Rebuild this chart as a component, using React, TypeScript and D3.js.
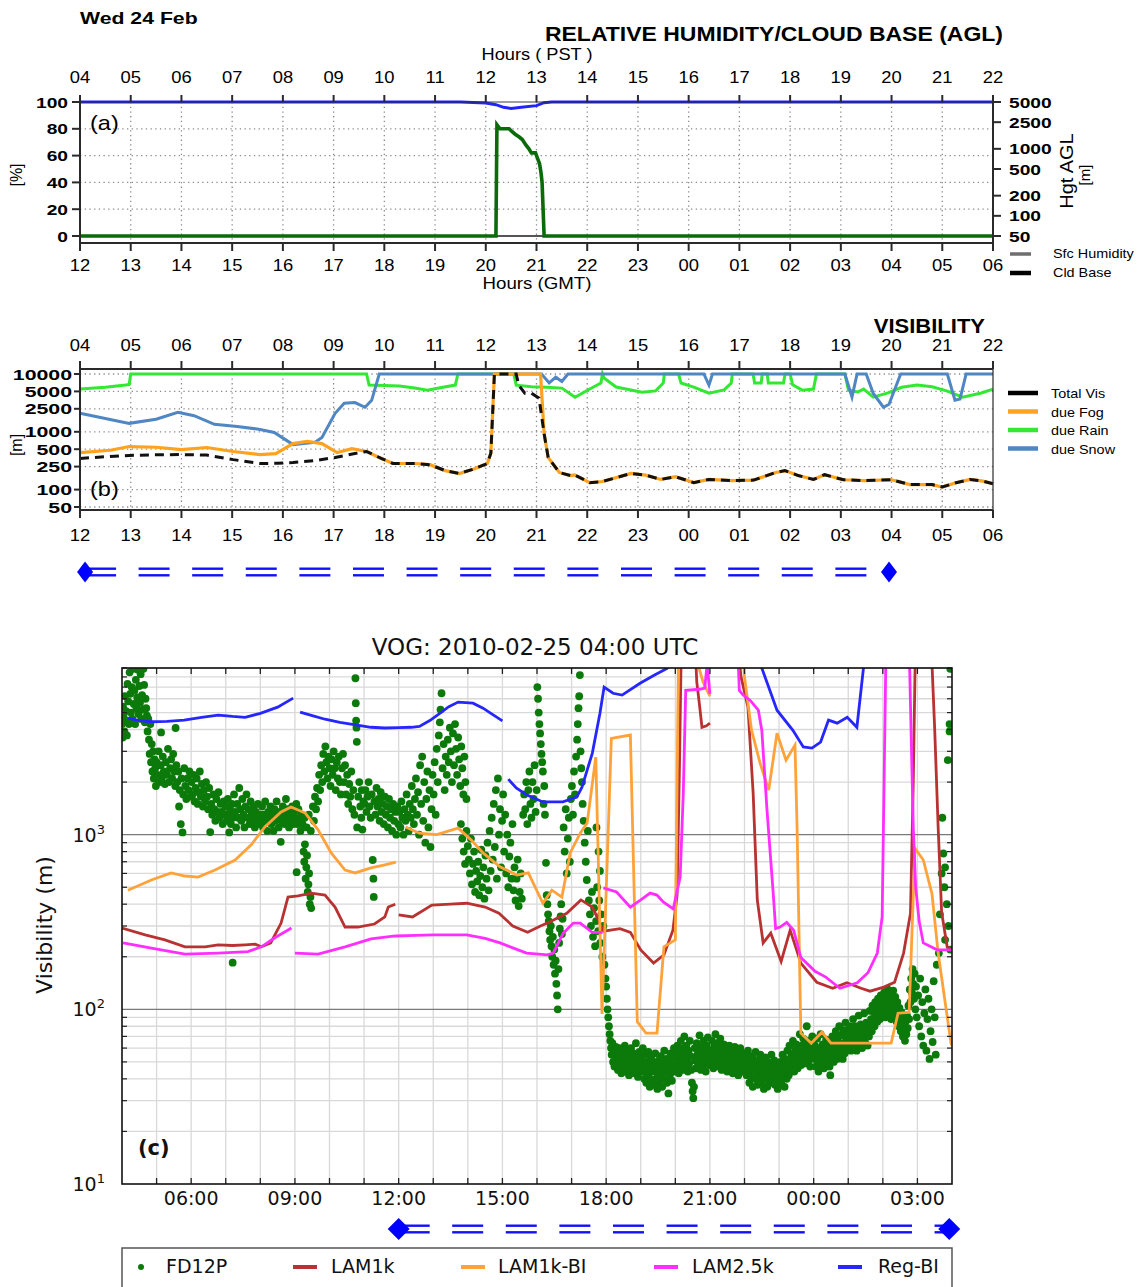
import React from "react";
import * as d3 from "d3";

type P = [number, number];

// ---------------- Panels (a) and (b): axes ----------------
const GMT_LABELS = ["12","13","14","15","16","17","18","19","20","21","22","23","00","01","02","03","04","05","06"];
const PST_LABELS = ["04","05","06","07","08","09","10","11","12","13","14","15","16","17","18","19","20","21","22"];
const RH_TICKS = [0, 20, 40, 60, 80, 100];
const CB_TICKS = [50, 100, 200, 500, 1000, 2500, 5000];
const VIS_TICKS = [50, 100, 250, 500, 1000, 2500, 5000, 10000];

// Panel (a): relative humidity [%] and cloud base [m], hour = GMT hour (24+ = next day)
const sfcHumidity: P[] = [[12,100],[19.5,100],[20.0,99.2],[20.2,98],[20.35,96],[20.5,95.2],[20.7,96],[21.0,97.3],[21.15,99.5],[21.3,100],[30,100]];
const cloudBase: P[] = [[12,50],[20.2,50],[20.22,2285],[20.28,1990],[20.46,1990],[20.52,1800],[20.58,1652],[20.66,1500],[20.72,1377],[20.79,1145],[20.85,1000],[20.9,869],[20.98,869],[21.02,722],[21.06,600],[21.09,436],[21.11,315],[21.15,50],[30,50]];

// Panel (b): visibility [m]
const visRain: P[] = [[12,5480],[12.5,5900],[12.9,6430],[12.97,6600],[13.0,10000],[17.65,10000],[17.7,6430],[18.0,6300],[18.3,6200],[18.6,5700],[18.85,5260],[19.1,5800],[19.4,6430],[19.45,10000],[20.55,10000],[20.6,6400],[20.9,6000],[21.2,5900],[21.5,5700],[21.76,3970],[22.05,5500],[22.27,7000],[22.3,10000],[22.33,8500],[22.57,5940],[23.08,4850],[23.35,5100],[23.5,7000],[23.52,10000],[23.8,10000],[23.85,7000],[24.1,5940],[24.4,4660],[24.7,5300],[24.84,7000],[24.86,10000],[25.27,10000],[25.3,7000],[25.43,7000],[25.45,10000],[25.55,10000],[25.57,7000],[25.87,7000],[25.9,10000],[26.0,10000],[26.05,6500],[26.24,5260],[26.46,5500],[26.52,10000],[27.08,10000],[27.15,5260],[27.34,4900],[27.45,5500],[27.64,3970],[27.93,4700],[28.2,5900],[28.5,6430],[28.8,6000],[29.1,5050],[29.4,3970],[29.77,4700],[30,5480]];
const visSnow: P[] = [[12,2090],[12.5,1700],[12.97,1400],[13.5,1650],[13.93,2180],[14.25,1900],[14.65,1350],[15.1,1240],[15.55,1100],[15.83,975],[16.2,600],[16.63,655],[16.77,800],[17.03,2090],[17.21,3120],[17.42,3200],[17.62,2660],[17.75,3500],[17.9,10000],[21.1,10000],[21.25,7000],[21.38,8800],[21.5,7400],[21.62,10000],[24.3,10000],[24.4,6430],[24.47,10000],[27.08,10000],[27.22,3970],[27.32,10000],[27.5,10000],[27.64,4600],[27.84,2660],[27.95,3000],[28.18,10000],[29.1,10000],[29.25,3520],[29.35,3700],[29.47,10000],[30,10000]];
const visFog: P[] = [[12,436],[12.6,480],[12.97,556],[13.5,540],[14.0,490],[14.5,535],[15.02,456],[15.55,404],[15.86,420],[16.2,625],[16.48,680],[16.77,625],[17.07,436],[17.36,510],[17.65,456],[17.94,346],[18.17,283],[18.6,283],[18.9,270],[19.2,213],[19.48,190],[19.78,230],[20.03,283],[20.1,425],[20.17,10000],[21.08,10000],[21.15,930],[21.23,360],[21.45,198],[21.67,175],[21.75,180],[22.05,132],[22.3,138],[22.86,190],[23.15,178],[23.45,150],[23.74,167],[24.1,132],[24.4,150],[24.84,143],[25.28,146],[25.72,198],[25.9,213],[26.16,175],[26.46,150],[26.68,181],[27.05,148],[27.47,143],[28.0,148],[28.36,122],[28.8,122],[29.0,111],[29.25,130],[29.55,150],[29.8,140],[30,126]];
const visTotal: P[] = [[12,346],[12.5,370],[12.97,390],[13.5,400],[14.0,404],[14.5,395],[15.02,330],[15.55,283],[15.9,285],[16.2,295],[16.63,316],[17.03,360],[17.42,420],[17.65,456],[17.94,346],[18.17,283],[18.6,283],[18.9,270],[19.2,213],[19.48,190],[19.78,230],[20.03,283],[20.1,425],[20.17,10000],[20.6,10000],[20.65,6400],[20.77,4660],[20.9,4660],[21.05,3820],[21.15,930],[21.23,360],[21.45,198],[21.67,175],[21.75,180],[22.05,132],[22.3,138],[22.86,190],[23.15,178],[23.45,150],[23.74,167],[24.1,132],[24.4,150],[24.84,143],[25.28,146],[25.72,198],[25.9,213],[26.16,175],[26.46,150],[26.68,181],[27.05,148],[27.47,143],[28.0,148],[28.36,122],[28.8,122],[29.0,111],[29.25,130],[29.55,150],[29.8,140],[30,126]];

const A_LEGEND = [{ label: "Sfc Humidity", color: "#6e6e6e" }, { label: "Cld Base", color: "#000000" }];
const B_LEGEND = [
  { label: "Total Vis", color: "#000000" },
  { label: "due Fog", color: "#ffa21f" },
  { label: "due Rain", color: "#33e833" },
  { label: "due Snow", color: "#4f86c4" },
];
const ARROW_B_HOURS = [12.1, 27.95];

// ---------------- Panel (c) ----------------
const C_HOUR_TICKS = [6, 9, 12, 15, 18, 21, 24, 27];
const C_HOUR_LABELS = ["06:00", "09:00", "12:00", "15:00", "18:00", "21:00", "00:00", "03:00"];
const C_DECADES = [10, 100, 1000];
const C_DECADE_EXP = ["1", "2", "3"];
const C_MINOR_MULT = [2, 3, 4, 5, 6, 7, 8, 9];
const ARROW_C_HOURS = [12.0, 27.92];

// hour (4 = 04:00 on 24 Feb, 28 = 04:00 on 25 Feb), visibility [m]
const lam1k: P[][] = [
  [[4.0,292],[4.67,267],[5.24,250],[5.82,228],[6.4,228],[6.78,234],[7.2,232],[7.56,234],[7.85,236],[8.03,228],[8.3,240],[8.6,312],[8.8,439],[9.09,446],[9.47,463],[9.87,451],[10.16,385],[10.45,296],[10.82,296],[11.3,308],[11.6,338],[11.7,385],[11.9,400]],
  [[12.0,347],[12.4,338],[12.96,395],[13.5,400],[13.97,405],[14.5,385],[14.9,355],[15.3,300],[15.73,276],[16.1,300],[16.35,315],[16.86,355],[17.27,423],[17.6,385],[17.93,280],[18.4,290],[18.7,276],[19.0,219],[19.37,184],[19.67,205],[19.93,284],[20.05,450],[20.12,2500],[20.18,15000],[20.55,15000],[20.62,7500],[20.7,5500],[20.77,4120],[20.9,4200],[21.0,4350]],
  [[21.0,15000],[21.8,12000],[21.9,8000],[22.1,5370],[22.25,1730],[22.37,423],[22.54,240],[22.76,273],[23.06,188],[23.32,284],[23.63,184],[24.09,143],[24.55,132],[24.96,142],[25.37,132],[25.63,127],[26.03,134],[26.34,143],[26.6,210],[26.8,355],[26.88,2000],[26.95,15000],[27.0,15000]],
  [[27.0,15000],[27.4,12000],[27.5,4000],[27.6,1100],[27.7,360],[27.86,228],[28.0,219]],
];
const lam1kBI: P[][] = [
  [[4.17,481],[4.85,550],[5.42,604],[5.82,580],[6.2,572],[6.69,627],[7.27,716],[7.73,872],[8.13,1107],[8.6,1350],[8.89,1440],[9.3,1330],[9.67,1065],[10.05,786],[10.45,627],[10.74,604],[11.2,645],[11.6,671],[11.92,697]],
  [[12.2,1107],[12.6,1020],[13.1,1000],[13.72,1090],[14.1,931],[14.44,786],[14.93,654],[15.42,588],[15.75,604],[16.17,405],[16.43,481],[16.72,439],[16.96,786],[17.25,1020],[17.45,1165],[17.7,2780],[17.88,94],[18.15,3560],[18.7,3720],[18.9,85],[19.15,73],[19.47,73],[19.67,228],[20.0,250],[20.1,15000],[20.55,15000],[20.65,9500],[20.8,7500],[21.0,6200]],
  [[21.0,15000],[21.9,15000],[22.0,8000],[22.2,4000],[22.45,2570],[22.7,1800],[22.94,3810],[23.2,2670],[23.46,3260],[23.52,1107],[23.63,73],[23.93,64],[24.24,74],[24.5,64],[26.24,64],[26.44,95],[26.76,96],[26.93,837],[27.17,716],[27.42,460],[27.6,210],[27.97,64],[28.0,62]],
];
const lam25k: P[][] = [
  [[4.03,240],[4.85,224],[5.82,207],[6.78,210],[7.64,214],[8.03,228],[8.42,257],[8.9,292]],
  [[9.0,210],[9.67,207],[10.45,228],[11.2,253],[11.9,263],[12.5,265],[13.0,267],[13.97,267],[14.5,255],[14.93,240],[15.3,225],[15.7,210],[16.3,205],[16.47,210],[16.76,273],[17.05,312],[17.25,312],[17.6,276],[17.9,276]],
  [[17.92,496],[18.3,470],[18.7,385],[19.0,423],[19.27,463],[19.47,451],[19.65,412],[19.94,376],[20.14,572],[20.23,1730],[20.3,6700],[20.7,6800],[20.85,6900],[20.92,9500],[21.0,6400]],
  [[21.0,15000],[21.78,15000],[21.85,6700],[21.96,6300],[22.16,5890],[22.4,5160],[22.5,3960],[22.65,1390],[22.83,463],[22.9,290],[23.03,296],[23.22,315],[23.42,284],[23.63,198],[24.04,165],[24.35,153],[24.76,132],[25.26,142],[25.57,162],[25.84,210],[25.98,338],[26.1,15000],[26.75,15000],[26.88,1100],[26.95,500],[27.05,320],[27.17,240],[27.57,219],[28.0,219]],
];
const regBI: P[][] = [
  [[4.17,4650],[4.5,4500],[4.85,4430],[5.3,4450],[5.8,4530],[6.3,4700],[6.78,4840],[7.2,4750],[7.56,4700],[8.0,4950],[8.5,5370],[8.95,6050]],
  [[9.15,5030],[9.5,4800],[9.87,4580],[10.3,4400],[10.8,4240],[11.2,4120],[11.6,4080],[12.0,4100],[12.36,4120],[12.6,4170],[12.9,4500],[13.2,4960],[13.45,5400],[13.72,5740],[14.15,5660],[14.44,5300],[14.7,4900],[15.0,4480]],
  [[15.17,2080],[15.4,1850],[15.7,1690],[16.17,1540],[16.75,1540],[17.15,1640],[17.3,1870],[17.6,2930],[17.82,4960],[17.94,7000],[18.2,6450],[18.46,6300],[18.98,7360],[19.4,8200],[19.76,8950],[20.0,10500],[21.0,14000],[22.0,12000],[22.5,9000],[22.94,5160],[23.4,3960],[23.7,3180],[23.95,3130],[24.2,3390],[24.43,4530],[24.68,4350],[24.97,4700],[25.25,4120],[25.44,9000],[25.6,14000],[28,15000]],
];

const fd12p: P[] = [
  [4.00,4300],[4.02,3600],[4.03,5400],[4.05,4700],[4.07,3900],[4.08,6200],[4.10,4500],[4.12,5100],[4.14,3700],[4.16,7300],[4.18,5800],[4.20,4300],[4.22,8500],[4.24,6400],[4.26,5000],[4.28,7000],[4.30,4600],[4.32,8900],[4.34,5600],[4.36,6700],[4.38,4300],[4.40,7700],[4.42,5300],[4.44,6100],[4.46,8800],[4.48,4900],[4.50,7100],[4.52,5700],[4.54,8300],[4.56,4600],[4.58,6300],[4.60,5200],[4.62,8900],[4.64,7200],[4.66,4400],[4.68,6000],[4.70,5300],[4.72,4800],[4.74,3900],[4.76,4600],[4.78,3500],[4.80,2900],[4.82,4300],[4.84,2600],[4.86,3300],[4.88,2300],[4.90,3000],[4.92,2100],[4.94,2700],[4.96,2400],[4.98,1900],
  [5.00,2600],[5.03,2200],[5.06,3000],[5.09,2000],[5.12,2500],[5.13,3850],[5.15,2100],[5.18,2800],[5.21,2300],[5.24,1950],[5.27,2600],[5.30,2200],[5.33,3100],[5.36,2000],[5.39,2400],[5.42,2700],[5.45,2100],[5.48,2900],[5.51,2300],[5.54,1900],[5.55,4080],[5.57,2500],[5.60,2000],[5.63,2300],[5.65,1450],[5.67,1800],[5.70,1150],[5.72,2100],[5.75,1030],[5.77,1700],[5.80,2400],[5.83,1900],[5.86,1600],[5.89,2100],[5.92,1800],[5.95,2300],[5.98,1650],
  [6.01,2000],[6.04,1700],[6.07,2200],[6.10,1550],[6.13,1850],[6.16,2100],[6.19,1500],[6.22,1750],[6.25,2300],[6.28,1650],[6.31,1950],[6.34,1450],[6.37,1800],[6.40,1550],[6.43,2000],[6.46,1650],[6.49,1400],[6.52,1850],[6.55,1035],[6.58,1500],[6.61,1300],[6.64,1700],[6.67,1400],[6.70,1200],[6.73,1600],[6.76,1350],[6.79,1750],[6.82,1250],[6.85,1500],[6.88,1350],[6.91,1150],[6.94,1550],[6.97,1300],
  [7.00,1450],[7.03,1200],[7.06,1600],[7.09,1300],[7.10,1030],[7.12,1400],[7.15,1150],[7.18,1500],[7.20,185],[7.21,1250],[7.24,1700],[7.27,1350],[7.30,1100],[7.33,1500],[7.36,1250],[7.39,1850],[7.42,1400],[7.45,1200],[7.48,1600],[7.51,1300],[7.54,1100],[7.57,1450],[7.60,1700],[7.63,1250],[7.66,1400],[7.69,1150],[7.72,1550],[7.75,1300],[7.78,1200],[7.81,1450],[7.84,1100],[7.87,1350],[7.90,1250],[7.93,1500],[7.96,1150],[7.99,1300],
  [8.02,1200],[8.05,1450],[8.08,1100],[8.11,1300],[8.14,1550],[8.17,1200],[8.20,1050],[8.23,1350],[8.26,1250],[8.29,1450],[8.32,1150],[8.35,1300],[8.38,1050],[8.41,1400],[8.44,1200],[8.47,1550],[8.50,1250],[8.53,1100],[8.56,1350],[8.59,910],[8.62,1200],[8.65,1450],[8.68,1300],[8.71,1150],[8.74,1600],[8.77,1250],[8.80,1400],[8.83,1100],[8.86,1300],[8.89,1200],[8.92,1450],[8.95,1150],[8.98,1350],
  [9.01,1250],[9.04,1500],[9.05,610],[9.07,1150],[9.10,1400],[9.13,1200],[9.16,1050],[9.19,1300],[9.22,1150],[9.25,800],[9.27,700],[9.29,880],[9.31,560],[9.33,650],[9.35,760],[9.37,470],[9.39,520],[9.41,600],[9.43,400],[9.45,440],[9.47,380],[9.28,1250],[9.34,1100],[9.40,1300],[9.46,1050],[9.52,1450],[9.55,1200],[9.58,1650],[9.61,1400],[9.64,1850],[9.67,1550],[9.70,2200],[9.73,1800],[9.76,2500],[9.79,2000],[9.82,2900],[9.85,2300],[9.88,3200],[9.91,2600],[9.94,2100],[9.97,2800],
  [10.00,2400],[10.03,1900],[10.06,2700],[10.09,2200],[10.12,3000],[10.15,2400],[10.18,1800],[10.21,2600],[10.24,2100],[10.27,2800],[10.30,2000],[10.33,1700],[10.36,2400],[10.39,2900],[10.42,2000],[10.45,2500],[10.48,1700],[10.51,2200],[10.54,1500],[10.57,1950],[10.60,1650],[10.63,2300],[10.66,1400],[10.69,1800],[10.72,1300],[10.75,7860],[10.76,5660],[10.77,4500],[10.78,4100],[10.79,3400],[10.80,1100],[10.83,1650],[10.86,2000],[10.89,1450],[10.92,1250],[10.93,1800],[10.95,1070],[10.98,1550],
  [11.01,1500],[11.04,1800],[11.07,1350],[11.10,1650],[11.13,2000],[11.16,1450],[11.19,1250],[11.22,1700],[11.25,716],[11.27,560],[11.28,440],[11.30,1550],[11.33,1300],[11.36,1850],[11.39,1450],[11.42,1600],[11.45,1200],[11.48,1750],[11.51,1350],[11.54,1500],[11.57,1150],[11.60,1650],[11.63,1300],[11.66,1450],[11.69,1100],[11.72,1600],[11.75,1250],[11.78,1400],[11.81,1050],[11.84,1500],[11.87,1200],[11.90,1350],[11.93,1000],[11.96,1450],[11.99,1150],
  [12.02,1350],[12.05,1100],[12.08,1550],[12.11,1250],[12.14,1000],[12.17,1400],[12.20,1200],[12.23,1700],[12.26,1300],[12.29,1050],[12.32,1500],[12.35,1250],[12.38,1900],[12.41,1400],[12.44,1150],[12.47,1600],[12.50,2100],[12.53,1300],[12.56,1750],[12.59,1000],[12.62,2500],[12.65,1500],[12.68,2800],[12.71,1200],[12.74,2000],[12.77,900],[12.80,1600],[12.83,2300],[12.86,1100],[12.89,1800],[12.92,850],[12.95,1400],[12.98,2200],
  [13.01,1700],[13.04,2600],[13.07,1300],[13.10,3100],[13.13,2000],[13.16,3700],[13.19,4400],[13.21,5200],[13.24,6450],[13.27,2400],[13.30,3300],[13.33,1800],[13.36,2800],[13.39,2200],[13.42,3500],[13.45,2600],[13.48,4100],[13.51,3000],[13.54,2000],[13.57,3800],[13.60,2500],[13.63,4300],[13.66,3100],[13.69,2200],[13.72,3600],[13.75,2700],[13.78,1900],[13.81,3200],[13.84,2400],[13.87,1700],[13.90,2800],[13.93,2000],[13.96,1600],
  [13.80,1150],[13.84,950],[13.88,800],[13.92,680],[13.96,1050],
  [14.00,860],[14.03,720],[14.06,600],[14.09,950],[14.12,520],[14.15,680],[14.18,800],[14.21,470],[14.24,620],[14.27,540],[14.30,700],[14.33,450],[14.36,580],[14.39,820],[14.42,500],[14.45,650],[14.48,430],[14.51,760],[14.54,560],[14.57,900],[14.60,480],[14.63,1050],[14.66,620],[14.69,1250],[14.72,720],[14.75,1500],[14.78,850],[14.81,1800],[14.84,560],[14.87,2100],[14.90,1000],[14.93,1400],[14.96,650],[14.99,1200],
  [15.02,1700],[15.05,800],[15.08,1300],[15.11,600],[15.14,1000],[15.17,500],[15.20,750],[15.23,900],[15.26,560],[15.29,1150],[15.32,480],[15.35,650],[15.38,420],[15.41,560],[15.44,720],[15.47,390],[15.50,470],[15.53,600],[15.56,430],[15.60,1300],[15.63,1700],[15.66,1400],[15.69,2000],[15.72,1150],[15.75,1800],[15.78,2300],[15.81,1500],[15.84,1250],[15.87,2000],[15.90,1600],[15.93,2500],[15.96,1350],[15.99,1800],
  [16.01,7000],[16.03,6000],[16.05,5000],[16.07,4300],[16.09,3800],[16.11,3300],[16.13,2900],[16.15,2600],[16.17,2300],[16.19,1500],[16.21,1900],[16.23,1300],[16.26,690],[16.28,450],[16.30,400],[16.32,350],[16.34,320],[16.36,280],[16.38,250],[16.40,300],[16.42,230],[16.44,200],[16.46,260],[16.48,180],[16.50,220],[16.52,160],[16.54,190],[16.56,140],[16.58,120],[16.60,100],[16.62,170],[16.64,240],[16.66,290],[16.68,340],[16.70,400],[16.72,270],[16.74,330],[16.77,1100],[16.80,800],[16.83,1400],[16.86,600],[16.89,950],[16.92,1250],[16.95,700],[16.98,1600],
  [17.01,1900],[17.04,1300],[17.07,2300],[17.10,1700],[17.13,2800],[17.16,3500],[17.18,4300],[17.20,5300],[17.22,6200],[17.24,8200],[17.26,3000],[17.28,2400],[17.30,2000],[17.32,1500],[17.35,1200],[17.38,900],[17.41,700],[17.44,550],[17.47,1050],[17.50,420],[17.53,350],[17.56,300],[17.59,470],[17.62,260],[17.65,380],[17.68,230],[17.71,320],[17.72,1100],[17.74,500],[17.77,280],[17.78,800],[17.80,420],[17.82,620],[17.83,240],[17.86,350],[17.89,200],[17.92,300],[17.95,180],[17.98,150],
  [18.00,135],[18.02,115],[18.04,100],[18.06,90],[18.08,80],[18.10,72],[18.12,66],[18.14,60],[18.16,55],[18.18,64],[18.20,50],[18.22,58],[18.24,47],[18.26,54],[18.28,61],[18.30,49],[18.32,56],[18.34,45],[18.36,52],[18.38,60],[18.40,48],[18.42,55],[18.44,43],[18.46,51],[18.48,58],[18.50,46],[18.52,53],[18.54,62],[18.56,49],[18.58,44],[18.60,55],[18.62,50],[18.64,58],[18.66,42],[18.68,48],[18.70,54],[18.72,60],[18.74,45],[18.76,51],[18.78,47],[18.80,56],[18.82,43],[18.84,50],[18.86,64],[18.88,46],[18.90,53],[18.92,41],[18.94,49],[18.96,57],[18.98,45],
  [19.02,52],[19.04,44],[19.06,60],[19.08,48],[19.10,40],[19.12,55],[19.14,46],[19.16,38],[19.18,50],[19.20,43],[19.22,57],[19.24,41],[19.26,36],[19.28,47],[19.30,53],[19.32,39],[19.34,45],[19.36,50],[19.38,37],[19.40,44],[19.42,56],[19.44,40],[19.46,48],[19.48,35],[19.50,42],[19.52,51],[19.54,38],[19.56,46],[19.58,54],[19.60,41],[19.62,36],[19.64,49],[19.66,44],[19.68,58],[19.70,40],[19.72,47],[19.74,52],[19.76,38],[19.78,45],[19.80,33],[19.82,50],[19.84,42],[19.86,56],[19.88,46],[19.90,39],[19.92,53],[19.94,48],[19.96,60],[19.98,44],
  [20.02,55],[20.04,47],[20.06,62],[20.08,51],[20.10,43],[20.12,58],[20.14,49],[20.16,66],[20.18,53],[20.20,45],[20.22,60],[20.24,50],[20.26,70],[20.28,56],[20.30,47],[20.32,62],[20.34,52],[20.36,44],[20.38,58],[20.40,49],[20.42,66],[20.44,54],[20.46,45],[20.48,38],[20.50,34],[20.52,31],[20.54,36],[20.56,60],[20.58,51],[20.60,46],[20.62,64],[20.64,55],[20.66,48],[20.68,59],[20.70,71],[20.72,52],[20.74,45],[20.76,61],[20.78,54],[20.80,48],[20.82,66],[20.84,57],[20.86,50],[20.88,44],[20.90,62],[20.92,53],[20.94,69],[20.96,56],[20.98,48],
  [21.02,58],[21.04,50],[21.06,66],[21.08,55],[21.10,46],[21.12,61],[21.14,52],[21.16,72],[21.18,58],[21.20,49],[21.22,64],[21.24,55],[21.26,47],[21.28,60],[21.30,68],[21.32,52],[21.34,45],[21.36,58],[21.38,50],[21.40,63],[21.42,54],[21.44,47],[21.46,59],[21.48,51],[21.50,44],[21.52,57],[21.54,49],[21.56,62],[21.58,53],[21.60,46],[21.62,58],[21.64,50],[21.66,43],[21.68,55],[21.70,48],[21.72,61],[21.74,52],[21.76,45],[21.78,57],[21.80,49],[21.82,42],[21.84,54],[21.86,47],[21.88,60],[21.90,51],[21.92,44],[21.94,56],[21.96,48],[21.98,53],
  [22.02,46],[22.04,55],[22.06,42],[22.08,50],[22.10,58],[22.12,44],[22.14,38],[22.16,49],[22.18,54],[22.20,41],[22.22,47],[22.24,36],[22.26,52],[22.28,45],[22.30,40],[22.32,57],[22.34,48],[22.36,43],[22.38,37],[22.40,51],[22.42,46],[22.44,40],[22.46,55],[22.48,44],[22.50,38],[22.52,49],[22.54,42],[22.56,35],[22.58,47],[22.60,53],[22.62,40],[22.64,45],[22.66,36],[22.68,50],[22.70,43],[22.72,38],[22.74,48],[22.76,41],[22.78,55],[22.80,46],[22.82,39],[22.84,44],[22.86,51],[22.88,37],[22.90,43],[22.92,49],[22.94,40],[22.96,35],[22.98,46],
  [23.02,42],[23.04,50],[23.06,38],[23.08,45],[23.10,55],[23.12,41],[23.14,48],[23.16,36],[23.18,52],[23.20,44],[23.22,40],[23.24,58],[23.26,47],[23.28,42],[23.30,62],[23.32,50],[23.34,45],[23.36,55],[23.38,48],[23.40,66],[23.42,52],[23.44,44],[23.46,58],[23.48,49],[23.50,63],[23.52,54],[23.54,46],[23.56,60],[23.58,51],[23.60,72],[23.62,56],[23.64,48],[23.66,62],[23.68,53],[23.70,68],[23.72,57],[23.74,49],[23.76,64],[23.78,54],[23.80,80],[23.82,60],[23.84,50],[23.86,66],[23.88,56],[23.90,47],[23.92,62],[23.94,53],[23.96,70],[23.98,58],
  [24.02,52],[24.04,62],[24.06,47],[24.08,56],[24.10,68],[24.12,50],[24.14,44],[24.16,59],[24.18,53],[24.20,72],[24.22,57],[24.24,48],[24.26,63],[24.28,55],[24.30,46],[24.32,60],[24.34,52],[24.36,67],[24.38,58],[24.40,49],[24.42,64],[24.44,55],[24.46,47],[24.48,42],[24.50,60],[24.52,53],[24.54,70],[24.56,58],[24.58,50],[24.60,65],[24.62,56],[24.64,75],[24.66,61],[24.68,52],[24.70,68],[24.72,58],[24.74,80],[24.76,63],[24.78,54],[24.80,71],[24.82,60],[24.84,52],[24.86,76],[24.88,64],[24.90,56],[24.92,84],[24.94,68],[24.96,59],[24.98,74],
  [25.02,62],[25.04,80],[25.06,68],[25.08,58],[25.10,76],[25.12,65],[25.14,88],[25.16,72],[25.18,62],[25.20,80],[25.22,69],[25.24,58],[25.26,76],[25.28,66],[25.30,92],[25.32,74],[25.34,63],[25.36,82],[25.38,70],[25.40,60],[25.42,78],[25.44,68],[25.46,95],[25.48,75],[25.50,64],[25.52,84],[25.54,72],[25.56,62],[25.58,80],[25.60,70],[25.62,98],[25.64,78],[25.66,88],[25.68,75],[25.70,105],[25.72,85],[25.74,96],[25.76,80],[25.78,110],[25.80,90],[25.82,100],[25.84,85],[25.86,115],[25.88,95],[25.90,106],[25.92,88],[25.94,120],[25.96,100],[25.98,112],
  [26.02,95],[26.04,125],[26.06,108],[26.08,90],[26.10,118],[26.12,100],[26.14,130],[26.16,110],[26.18,95],[26.20,122],[26.22,105],[26.24,88],[26.26,115],[26.28,98],[26.30,128],[26.32,108],[26.34,92],[26.36,118],[26.38,100],[26.40,85],[26.42,110],[26.44,95],[26.46,80],[26.48,102],[26.50,88],[26.52,75],[26.54,96],[26.56,82],[26.58,70],[26.60,90],[26.62,78],[26.64,66],[26.66,85],[26.68,72],[26.70,92],[26.72,78],[26.74,105],[26.76,88],[26.78,130],[26.80,110],[26.82,150],[26.84,125],[26.86,170],[26.88,140],[26.90,115],[26.92,160],[26.94,100],[26.96,135],[26.98,90],
  [27.02,120],[27.05,80],[27.08,150],[27.11,70],[27.14,110],[27.17,62],[27.20,95],[27.23,130],[27.26,58],[27.29,88],[27.32,115],[27.35,52],[27.38,75],[27.41,100],[27.44,65],[27.47,145],[27.50,90],[27.53,55],[27.56,180],[27.62,210],[27.65,350],[27.70,600],[27.72,1250],[27.75,780],[27.78,500],[27.80,650],[27.80,250],[27.85,400],[27.88,2670],[27.90,300],[27.93,4300],[27.93,3900],[27.95,8900],[27.95,220],
];

const C_LEGEND = [
  { label: "FD12P", color: "#0b7a0b", kind: "dot" },
  { label: "LAM1k", color: "#b83232", kind: "line" },
  { label: "LAM1k-BI", color: "#ffa23a", kind: "line" },
  { label: "LAM2.5k", color: "#ff2eff", kind: "line" },
  { label: "Reg-BI", color: "#2626ff", kind: "line" },
];

// ---------------- helpers ----------------
const FA = "'Liberation Sans', Arial, Helvetica, sans-serif";
const FC = "'DejaVu Sans', Verdana, sans-serif";

function T(props: any) {
  const { x, y, s, sx = 1, anchor = "start", weight = "normal", fill = "#000", rot = 0, family = FA, children } = props;
  let tr = `translate(${x},${y})`;
  if (rot) tr += ` rotate(${rot})`;
  if (sx !== 1) tr += ` scale(${sx},1)`;
  return (
    <text transform={tr} fontSize={s} textAnchor={anchor} fontWeight={weight} fontFamily={family} fill={fill}>
      {children}
    </text>
  );
}

function Arrow({ cx0, cx1, cy, hw, hh }: any) {
  const segs: [number, number][] = [[cx0 + hw * 0.4, cx0 + 31]];
  let s = cx0 + 53.5;
  while (s + 31 <= cx1 - hw - 4) {
    segs.push([s, s + 31]);
    s += 53.6;
  }
  if (s < cx1 - hw) segs.push([s, cx1 - hw * 0.4]);
  const dia = (c: number) => `M${c - hw},${cy}L${c},${cy - hh}L${c + hw},${cy}L${c},${cy + hh}Z`;
  return (
    <g>
      {segs.map((sg, i) => (
        <g key={i}>
          <line x1={sg[0]} x2={sg[1]} y1={cy - 3.3} y2={cy - 3.3} stroke="#1010ff" strokeWidth={2.4} />
          <line x1={sg[0]} x2={sg[1]} y1={cy + 3.3} y2={cy + 3.3} stroke="#1010ff" strokeWidth={2.4} />
        </g>
      ))}
      <path d={dia(cx0)} fill="#0000ff" />
      <path d={dia(cx1)} fill="#0000ff" />
    </g>
  );
}

export default function App() {
  // scales
  const xAB = d3.scaleLinear().domain([12, 30]).range([80, 993]);
  const yRH = d3.scaleLinear().domain([0, 100]).range([236, 102]);
  const yCB = d3.scaleLog().domain([50, 5000]).range([236, 102]);
  const yVis = d3.scaleLog().domain([50, 10000]).range([507, 374]);
  const xC = d3.scaleLinear().domain([4, 28]).range([122, 952]);
  const yC = d3.scaleLog().domain([10, 9000]).range([1184, 668]);

  const hoursAB = GMT_LABELS.map((_, i) => 12 + i);
  const lineRH = d3.line<P>().x((d) => xAB(d[0])).y((d) => yRH(d[1]));
  const lineCB = d3.line<P>().x((d) => xAB(d[0])).y((d) => yCB(d[1]));
  const lineVis = d3.line<P>().x((d) => xAB(d[0])).y((d) => yVis(d[1]));
  const lineC = d3.line<P>().x((d) => xC(d[0])).y((d) => yC(d[1]));

  const dotted = { stroke: "#8a8a8a", strokeWidth: 1.3, strokeDasharray: "1.3 3.4" };
  const axisCol = "#2a2a2a";

  const cHours = d3.range(5, 28);
  const cMinor: number[] = [];
  C_DECADES.forEach((d) => C_MINOR_MULT.forEach((m) => { if (d * m <= 9000) cMinor.push(d * m); }));

  const [aL, aR] = [xAB.range()[0], xAB.range()[1]];
  const [cL, cR] = [xC.range()[0], xC.range()[1]];
  const [cB, cT] = [yC.range()[0], yC.range()[1]];

  return (
    <svg width={1143} height={1287} style={{ position: "absolute", left: 0, top: 0, background: "#fff" }}>
      <rect x={0} y={0} width={1143} height={1287} fill="#fff" />

      {/* ================= Panel (a) ================= */}
      <T x={80} y={24} s={17} sx={1.25} weight="bold">Wed 24 Feb</T>
      <T x={1003} y={41} s={21} sx={1.095} weight="bold" anchor="end">RELATIVE HUMIDITY/CLOUD BASE (AGL)</T>
      <T x={537} y={60} s={16} sx={1.14} anchor="middle">Hours ( PST )</T>

      {/* grid */}
      {RH_TICKS.filter((t) => t > 0 && t < 100).map((t) => (
        <line key={"ag" + t} x1={aL} x2={aR} y1={yRH(t)} y2={yRH(t)} {...dotted} />
      ))}
      {hoursAB.slice(1, -1).map((h) => (
        <line key={"av" + h} x1={xAB(h)} x2={xAB(h)} y1={102} y2={243} {...dotted} />
      ))}
      {/* data */}
      <line x1={aL} x2={aR} y1={yCB(50)} y2={yCB(50)} stroke="#555" strokeWidth={2} />
      <path d={lineCB(cloudBase) || ""} fill="none" stroke="#0b6b0b" strokeWidth={3.6} strokeLinejoin="miter" />
      <path d={lineRH(sfcHumidity) || ""} fill="none" stroke="#2323ff" strokeWidth={3} />
      {/* frame */}
      <line x1={aL} x2={aR} y1={102} y2={102} stroke={axisCol} strokeWidth={1.5} strokeOpacity={0.6} />
      <line x1={aL} x2={aR} y1={243} y2={243} stroke={axisCol} strokeWidth={2} />
      <line x1={aL} x2={aL} y1={98} y2={247} stroke={axisCol} strokeWidth={2} />
      <line x1={aR} x2={aR} y1={98} y2={247} stroke={axisCol} strokeWidth={2} />
      {hoursAB.map((h, i) => (
        <g key={"at" + h}>
          <line x1={xAB(h)} x2={xAB(h)} y1={95} y2={102} stroke={axisCol} strokeWidth={2} />
          <line x1={xAB(h)} x2={xAB(h)} y1={243} y2={251} stroke={axisCol} strokeWidth={2} />
          <T x={xAB(h)} y={83} s={16} sx={1.15} anchor="middle">{PST_LABELS[i]}</T>
          <T x={xAB(h)} y={271} s={16} sx={1.15} anchor="middle">{GMT_LABELS[i]}</T>
        </g>
      ))}
      {RH_TICKS.map((t) => (
        <g key={"arh" + t}>
          <line x1={72} x2={aL} y1={yRH(t)} y2={yRH(t)} stroke={axisCol} strokeWidth={2} />
          <T x={68} y={yRH(t) + 5.5} s={15} sx={1.28} weight="bold" anchor="end">{t}</T>
        </g>
      ))}
      {CB_TICKS.map((t) => (
        <g key={"acb" + t}>
          <line x1={aR} x2={aR + 8} y1={yCB(t)} y2={yCB(t)} stroke={axisCol} strokeWidth={2} />
          <T x={1009} y={yCB(t) + 5.5} s={15} sx={1.28} weight="bold">{t}</T>
        </g>
      ))}
      <T x={22} y={175} s={16} rot={-90} anchor="middle">[%]</T>
      <T x={90} y={130} s={21} sx={1.12}>(a)</T>
      <T x={1073} y={171} s={19} sx={1.05} rot={-90} anchor="middle">Hgt AGL</T>
      <T x={1090} y={175} s={15} rot={-90} anchor="middle">[m]</T>
      <T x={537} y={289} s={17} sx={1.1} anchor="middle">Hours (GMT)</T>
      {A_LEGEND.map((l, i) => (
        <g key={"al" + i}>
          <line x1={1010} x2={1031} y1={254 + i * 19} y2={254 + i * 19} stroke={l.color} strokeWidth={i === 0 ? 3.5 : 4.5} />
          <T x={1053} y={258 + i * 19} s={12} sx={1.2}>{l.label}</T>
        </g>
      ))}

      {/* ================= Panel (b) ================= */}
      <T x={985} y={333} s={20} sx={1.1} weight="bold" anchor="end">VISIBILITY</T>
      {VIS_TICKS.map((t) => (
        <line key={"bg" + t} x1={aL} x2={aR} y1={yVis(t)} y2={yVis(t)} {...dotted} />
      ))}
      {hoursAB.slice(1, -1).map((h) => (
        <line key={"bv" + h} x1={xAB(h)} x2={xAB(h)} y1={369} y2={510} {...dotted} />
      ))}
      <path d={lineVis(visRain) || ""} fill="none" stroke="#33e833" strokeWidth={3} />
      <path d={lineVis(visSnow) || ""} fill="none" stroke="#4f86c4" strokeWidth={3} />
      <path d={lineVis(visFog) || ""} fill="none" stroke="#ffa21f" strokeWidth={3.2} />
      <path d={lineVis(visTotal) || ""} fill="none" stroke="#111" strokeWidth={3} strokeDasharray="9 6" />
      <line x1={aL} x2={aR} y1={369} y2={369} stroke={axisCol} strokeWidth={2} />
      <line x1={aL} x2={aR} y1={510} y2={510} stroke={axisCol} strokeWidth={2} />
      <line x1={aL} x2={aL} y1={367} y2={512} stroke={axisCol} strokeWidth={2} />
      <line x1={aR} x2={aR} y1={367} y2={512} stroke={axisCol} strokeWidth={1.5} strokeOpacity={0.8} />
      {hoursAB.map((h, i) => (
        <g key={"bt" + h}>
          <line x1={xAB(h)} x2={xAB(h)} y1={361} y2={369} stroke={axisCol} strokeWidth={2} />
          <line x1={xAB(h)} x2={xAB(h)} y1={510} y2={518} stroke={axisCol} strokeWidth={2} />
          <T x={xAB(h)} y={351} s={16} sx={1.15} anchor="middle">{PST_LABELS[i]}</T>
          <T x={xAB(h)} y={541} s={16} sx={1.15} anchor="middle">{GMT_LABELS[i]}</T>
        </g>
      ))}
      {VIS_TICKS.map((t) => (
        <g key={"bvt" + t}>
          <line x1={74} x2={aL} y1={yVis(t)} y2={yVis(t)} stroke={axisCol} strokeWidth={2} />
          <T x={72} y={yVis(t) + 5.5} s={15} sx={1.42} weight="bold" anchor="end">{t}</T>
        </g>
      ))}
      <T x={22} y={445} s={16} rot={-90} anchor="middle">[m]</T>
      <T x={90} y={496} s={21} sx={1.12}>(b)</T>
      {B_LEGEND.map((l, i) => (
        <g key={"bl" + i}>
          <line x1={1008} x2={1038} y1={393 + i * 18.5} y2={393 + i * 18.5} stroke={l.color} strokeWidth={4.5} />
          <T x={1051} y={398 + i * 18.5} s={12} sx={1.2}>{l.label}</T>
        </g>
      ))}
      <Arrow cx0={xAB(ARROW_B_HOURS[0])} cx1={xAB(ARROW_B_HOURS[1])} cy={572} hw={8} hh={10.5} />

      {/* ================= Panel (c) ================= */}
      <T x={535} y={655} s={23} family={FC} anchor="middle" fill="#111">VOG: 2010-02-25 04:00 UTC</T>
      <defs>
        <clipPath id="clipC">
          <rect x={cL} y={cT} width={cR - cL} height={cB - cT} />
        </clipPath>
      </defs>
      {/* grid */}
      {cMinor.map((v) => (
        <line key={"cm" + v} x1={cL} x2={cR} y1={yC(v)} y2={yC(v)} stroke="#d9d9d9" strokeWidth={1.3} />
      ))}
      {cHours.map((h) => (
        <line key={"cv" + h} x1={xC(h)} x2={xC(h)} y1={cT} y2={cB} stroke="#d9d9d9" strokeWidth={1.3} />
      ))}
      {C_DECADES.slice(1).map((v) => (
        <line key={"cM" + v} x1={cL} x2={cR} y1={yC(v)} y2={yC(v)} stroke="#7a7a7a" strokeWidth={1.4} />
      ))}
      <g clipPath="url(#clipC)">
        {fd12p.map((d, i) => (
          <circle key={"fd" + i} cx={xC(d[0])} cy={yC(d[1])} r={3.9} fill="#0b7a0b" />
        ))}
        {lam1k.map((s, i) => (
          <path key={"r" + i} d={lineC(s) || ""} fill="none" stroke="#b83232" strokeWidth={2.8} />
        ))}
        {lam1kBI.map((s, i) => (
          <path key={"o" + i} d={lineC(s) || ""} fill="none" stroke="#ffa23a" strokeWidth={2.8} />
        ))}
        {lam25k.map((s, i) => (
          <path key={"m" + i} d={lineC(s) || ""} fill="none" stroke="#ff2eff" strokeWidth={2.8} />
        ))}
        {regBI.map((s, i) => (
          <path key={"b" + i} d={lineC(s) || ""} fill="none" stroke="#2626ff" strokeWidth={2.8} />
        ))}
      </g>
      {/* ticks */}
      {cHours.map((h) => (
        <g key={"ct" + h}>
          <line x1={xC(h)} x2={xC(h)} y1={cB} y2={cB - 6} stroke="#222" strokeWidth={1.3} />
          <line x1={xC(h)} x2={xC(h)} y1={cT} y2={cT + 6} stroke="#222" strokeWidth={1.3} />
        </g>
      ))}
      {cMinor.map((v) => (
        <g key={"cmt" + v}>
          <line x1={cL} x2={cL + 5} y1={yC(v)} y2={yC(v)} stroke="#222" strokeWidth={1.2} />
          <line x1={cR} x2={cR - 5} y1={yC(v)} y2={yC(v)} stroke="#222" strokeWidth={1.2} />
        </g>
      ))}
      <rect x={cL} y={cT} width={cR - cL} height={cB - cT} fill="none" stroke="#111" strokeWidth={1.6} />
      {C_HOUR_TICKS.map((h, i) => (
        <T key={"cxl" + h} x={xC(h)} y={1205} s={19} family={FC} anchor="middle" fill="#111">{C_HOUR_LABELS[i]}</T>
      ))}
      {C_DECADES.map((v, i) => (
        <text key={"cyl" + v} x={105} y={yC(v) + 7} fontSize={19} fontFamily={FC} textAnchor="end" fill="#111">
          10<tspan fontSize={13} dy={-8}>{C_DECADE_EXP[i]}</tspan>
        </text>
      ))}
      <T x={52} y={925} s={22} family={FC} rot={-90} anchor="middle" fill="#111">Visibility (m)</T>
      <T x={138} y={1155} s={21} family={FC} weight="bold" fill="#111">(c)</T>
      <Arrow cx0={xC(ARROW_C_HOURS[0])} cx1={xC(ARROW_C_HOURS[1])} cy={1229} hw={11} hh={11} />
      {/* legend */}
      <rect x={cL} y={1248} width={cR - cL} height={60} fill="#fff" stroke="#555" strokeWidth={1.5} />
      {C_LEGEND.map((l, i) => {
        const lx = [141, 305, 473, 666, 850][i];
        const tx = [166, 331, 498, 692, 878][i];
        return (
          <g key={"cl" + i}>
            {l.kind === "dot" ? (
              <circle cx={lx} cy={1267} r={3} fill={l.color} />
            ) : (
              <line x1={lx - 12} x2={lx + 12} y1={1267} y2={1267} stroke={l.color} strokeWidth={4} />
            )}
            <T x={tx} y={1273} s={19} family={FC} fill="#111">{l.label}</T>
          </g>
        );
      })}
    </svg>
  );
}
